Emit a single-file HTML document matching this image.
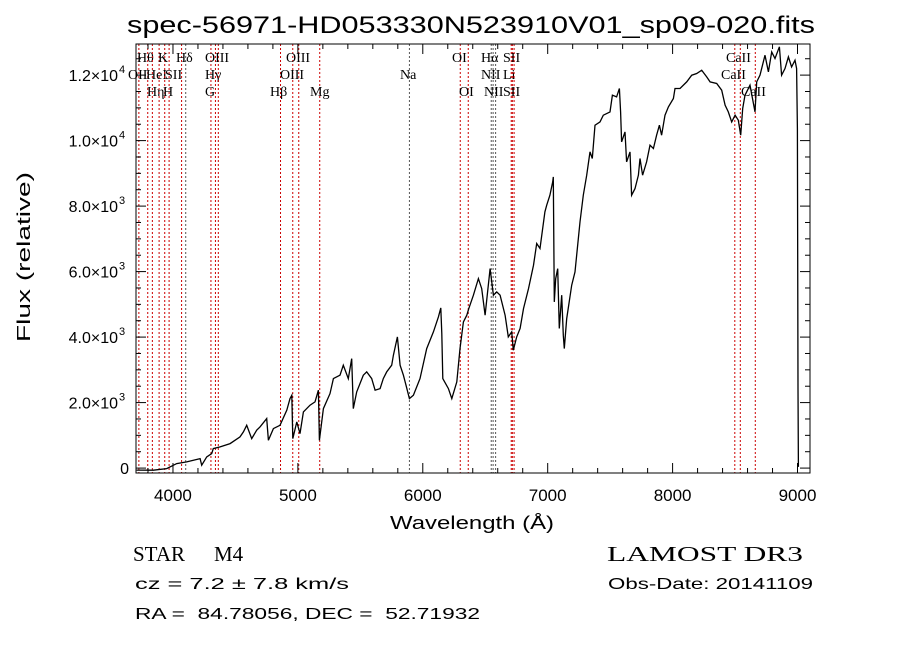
<!DOCTYPE html>
<html><head><meta charset="utf-8"><style>
html,body{margin:0;padding:0;background:#fff;}
svg{display:block;font-family:"Liberation Sans",sans-serif;}
text{white-space:pre;}
</style></head><body>
<svg id="chart" width="900" height="649" viewBox="0 0 900 649" xmlns="http://www.w3.org/2000/svg">
<rect width="900" height="649" fill="#fff"/>
<text x="127" y="33" font-size="24" textLength="688" lengthAdjust="spacingAndGlyphs">spec-56971-HD053330N523910V01_sp09-020.fits</text>
<g id="lines"></g>
<g id="spec"></g>
<g id="axes"></g>
<text transform="translate(30,257) rotate(-90)" font-size="18" text-anchor="middle" textLength="170" lengthAdjust="spacingAndGlyphs">Flux (relative)</text>
<text x="472" y="529" font-size="18" text-anchor="middle" textLength="164" lengthAdjust="spacingAndGlyphs">Wavelength (Å)</text>
<g font-family="'Liberation Serif',serif">
<text x="133" y="561" font-size="21">STAR</text>
<text x="214" y="561" font-size="21">M4</text>
<text x="607" y="561" font-size="21" textLength="196" lengthAdjust="spacingAndGlyphs">LAMOST DR3</text>
</g>
<text x="135" y="589" font-size="16" textLength="214" lengthAdjust="spacingAndGlyphs">cz = 7.2 ± 7.8 km/s</text>
<text x="608" y="589" font-size="16" textLength="205" lengthAdjust="spacingAndGlyphs">Obs-Date: 20141109</text>
<text x="135" y="619" font-size="16" textLength="345" lengthAdjust="spacingAndGlyphs" xml:space="preserve">RA =  84.78056, DEC =  52.71932</text>
</svg>
<script>
const wavelengths=[3709,3843,3950,3976,4030,4110,4217,4230,4270,4310,4323,4377,4457,4537,4564,4590,4630,4670,4697,4750,4764,4804,4857,4911,4937,4951,4959,4991,5017,5044,5097,5137,5164,5172,5204,5257,5284,5337,5364,5404,5431,5444,5471,5524,5551,5591,5618,5658,5684,5711,5751,5765,5797,5818,5845,5866,5893,5925,5978,6031,6085,6125,6144,6152,6160,6205,6232,6272,6298,6325,6352,6368,6405,6445,6472,6499,6539,6565,6592,6619,6659,6685,6712,6725,6752,6779,6806,6846,6886,6912,6938,6978,6992,7018,7040,7045,7053,7064,7080,7093,7112,7125,7133,7152,7192,7219,7259,7285,7312,7339,7357,7379,7419,7445,7499,7518,7552,7574,7584,7592,7619,7632,7659,7672,7699,7726,7739,7760,7792,7819,7846,7872,7894,7912,7939,7966,8006,8019,8059,8113,8153,8193,8233,8273,8300,8353,8393,8420,8446,8473,8500,8526,8545,8561,8580,8620,8660,8673,8700,8740,8767,8793,8820,8855,8873,8900,8927,8953,8980,8993,8999,9004,9007];
const fluxes=[-60,-66,-15,36,138,189,290,87,341,443,596,647,749,952,1105,1308,901,1156,1258,1512,850,1207,1308,1767,2123,2225,901,1410,1054,1716,1919,2021,2377,850,1818,2275,2733,2835,3141,2733,3344,1818,2326,2835,2937,2733,2377,2428,2733,2937,3141,3446,4006,3141,2835,2530,2123,2225,2733,3650,4159,4617,4892,4108,2733,2428,2123,2632,3650,4464,4668,4871,5279,5787,5482,4668,6093,5279,5380,5279,4668,4006,4159,3599,4006,4261,4871,5482,6195,6857,6704,7824,8027,8333,8740,8893,5075,5787,6093,4261,5279,4057,3650,4566,5584,5991,7518,8333,8943,9656,9453,10470,10572,10776,10878,11387,11336,11590,10878,9961,10267,9351,9656,8333,8536,8943,9453,8943,9351,9860,9758,10165,10470,10165,10776,11030,11285,11590,11590,11794,11997,12048,12150,11946,11794,11743,11539,11081,10878,10572,10776,10623,10165,10979,11387,11692,10878,11794,11997,12608,12099,12710,12506,12863,11997,12201,12557,12252,12455,12201,10369,2428,36];
const lineNames=["OII","Hθ","Hη","HeI","K","H","SII","Hδ","G","Hγ","OIII","Hβ","OIII","OIII","Mg","Na","OI","OI","NII","Hα","NII","Li","SII","SII","CaII","CaII","CaII"];
const lineWaves=[3727,3798,3835,3889,3934,3969,4069,4102,4304,4340,4363,4861,4959,5007,5175,5893,6300,6364,6548,6563,6583,6708,6717,6731,8498,8542,8662];
const lineRows=[1,0,2,1,0,2,1,0,2,1,0,2,1,0,2,1,0,2,1,0,2,1,0,2,0,1,2];
const xTicks=[4000,5000,6000,7000,8000,9000];
const yTicks=[0,2000,4000,6000,8000,10000,12000];
const yTickLabels=["0","2.0×10|3","4.0×10|3","6.0×10|3","8.0×10|3","1.0×10|4","1.2×10|4"];

const NS="http://www.w3.org/2000/svg";
const L=136,R=810,T=44,B=473;
const X0=3704,X1=9100,Y0=-150,Y1=12950;
function sx(w){return L+(w-X0)/(X1-X0)*(R-L);}
function sy(f){return B-(f-Y0)/(Y1-Y0)*(B-T);}
function mk(tag,attrs,parent){const e=document.createElementNS(NS,tag);for(const k in attrs)e.setAttribute(k,attrs[k]);parent.appendChild(e);return e;}

const lg=document.getElementById('lines');
const labelX=[128,137,147,146,158,163,165,176,205,205,205,270,280,286,310,400,452,459,481,481,484,503,503,503,726,721,741];
const blackSet=["Hδ","Na","Hα","NII"];
for(let i=0;i<lineWaves.length;i++){
  const x=sx(lineWaves[i]);
  const black=blackSet.includes(lineNames[i]);
  const ln=mk('line',{x1:x,x2:x,y1:T,y2:B,stroke:black?'#555':'#cc0000','stroke-width':1,'stroke-dasharray':'2,2'},lg);
  
  
  const t=mk('text',{x:labelX[i],y:62+lineRows[i]*17,'font-size':14,'font-family':"'Liberation Serif',serif"},lg);
  t.textContent=lineNames[i];
  
  
}

const sg=document.getElementById('spec');
let d='';
for(let i=0;i<wavelengths.length;i++){d+=(i?'L':'M')+sx(wavelengths[i]).toFixed(1)+','+sy(fluxes[i]).toFixed(1);}
const p=mk('path',{d:d,fill:'none',stroke:'#000','stroke-width':1.3},sg);



const ag=document.getElementById('axes');
const fr=mk('rect',{x:L,y:T,width:R-L,height:B-T,fill:'none',stroke:'#000','stroke-width':1},ag);


for(let w=3800;w<=9100;w+=200){
  const x=sx(w);const major=(w%1000===0);const len=major?10:5;
  mk('line',{x1:x,x2:x,y1:B,y2:B-len,stroke:'#000'},ag);
  mk('line',{x1:x,x2:x,y1:T,y2:T+len,stroke:'#000'},ag);
}
for(let f=0;f<=12900;f+=500){
  const y=sy(f);const major=(f%2000===0);const len=major?10:5;
  mk('line',{x1:L,x2:L+len,y1:y,y2:y,stroke:'#000'},ag);
  mk('line',{x1:R,x2:R-len,y1:y,y2:y,stroke:'#000'},ag);
}
xTicks.forEach(w=>{
  const t=mk('text',{x:sx(w),y:501,'font-size':17,'text-anchor':'middle'},ag);
  t.textContent=String(w);
  
  
});
yTicks.forEach((f,i)=>{
  const parts=yTickLabels[i].split('|');
  const t=mk('text',{x:i===0?129:118,y:sy(f)+6,'font-size':16,'text-anchor':'end'},ag);
  t.textContent=parts[0];
  
  
  if(parts[1]){
    const s=mk('text',{x:119,y:sy(f)-2,'font-size':11},ag);
    s.textContent=parts[1];
    
    
  }
});
</script>
</body></html>
